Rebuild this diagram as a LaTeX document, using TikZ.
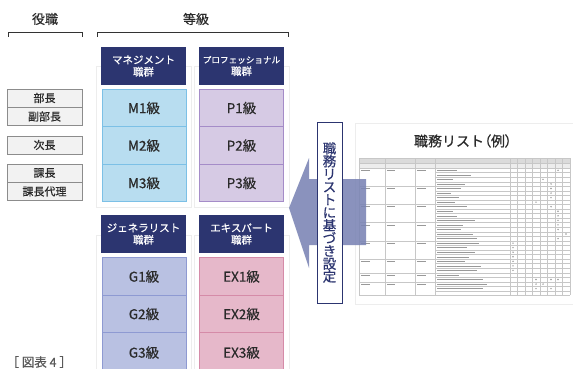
\documentclass[tikz,border=0pt]{standalone}
\usepackage{fontspec}
\setmainfont{Noto Sans CJK JP}[FakeBold=0.6]
\usetikzlibrary{shadows}
\definecolor{navy}{HTML}{2C3570}
\definecolor{mfill}{HTML}{B8DDF0}
\definecolor{mdraw}{HTML}{7CC0E6}
\definecolor{pfill}{HTML}{D6CAE4}
\definecolor{pdraw}{HTML}{A58CC8}
\definecolor{gfill}{HTML}{B9C1E2}
\definecolor{gdraw}{HTML}{8E9AD2}
\definecolor{efill}{HTML}{E6B8CA}
\definecolor{edraw}{HTML}{D58BA8}
\definecolor{arrowc}{HTML}{7A84B4}
\definecolor{txt}{HTML}{2A2A2A}
\tikzset{
  hdr/.style={fill=navy, text=white, minimum width=85pt, minimum height=38pt, inner sep=0pt, align=center, font=\fontsize{10.5}{12}\selectfont},
  cell/.style={minimum width=84pt, minimum height=37.5pt, inner sep=0pt, line width=0.8pt, text=txt, font=\fontsize{13.5}{15}\selectfont},
  mcell/.style={cell, fill=mfill, draw=mdraw},
  pcell/.style={cell, fill=pfill, draw=pdraw},
  gcell/.style={cell, fill=gfill, draw=gdraw},
  ecell/.style={cell, fill=efill, draw=edraw},
  card/.style={fill=white, draw=black!7, line width=0.5pt, drop shadow={opacity=0.18, shadow xshift=1pt, shadow yshift=-1pt}},
  rolebox/.style={fill=black!5, draw=black!45, line width=0.6pt, minimum width=75pt, minimum height=18pt, inner sep=0pt, text=txt, font=\fontsize{11}{12}\selectfont},
  bracket/.style={draw=black!80, line width=0.8pt},
  headtext/.style={text=txt, font=\fontsize{13}{14}\selectfont},
  tline/.style={draw=black!22, line width=0.3pt},
  tbar/.style={draw=black!40, line width=0.9pt},
}
\begin{document}
\begin{tikzpicture}[x=1pt,y=-1pt]
\useasboundingbox (0,0) rectangle (573,369);
\fill[white] (0,0) rectangle (573,369);

% headings and brackets
\node[headtext] (yaku) at (45,19) {役職};
\node[headtext] (tokyu) at (196,19) {等級};
\draw[bracket] (8,37) -- (8,32) -- (82,32) -- (82,37);
\draw[bracket] (97,37) -- (97,32) -- (288,32) -- (288,37);

% role boxes
\node[rolebox] (bucho) at (44.5,98) {部長};
\node[rolebox] (fukubucho) at (44.5,116.5) {副部長};
\node[rolebox] (jicho) at (44.5,145) {次長};
\node[rolebox] (kacho) at (44.5,173) {課長};
\node[rolebox] (kachodairi) at (44.5,191.5) {課長代理};

% cards
\path[card] (96,66) rectangle (191,207);
\path[card] (194,66) rectangle (289,207);
\path[card] (96,235) rectangle (191,380);
\path[card] (194,235) rectangle (289,380);

% upper groups
\node[hdr] (mh) at (143.5,66) {マネジメント\\職群};
\node[hdr, font=\fontsize{8.6}{12}\selectfont] (ph) at (241.5,66) {プロフェッショナル\\{\fontsize{10.5}{12}\selectfont 職群}};
\node[mcell] (m1) at (144,108) {M1級};
\node[mcell] (m2) at (144,145.5) {M2級};
\node[mcell] (m3) at (144,183) {M3級};
\node[pcell] (p1) at (241.5,108) {P1級};
\node[pcell] (p2) at (241.5,145.5) {P2級};
\node[pcell] (p3) at (241.5,183) {P3級};

% lower groups
\node[hdr] (gh) at (143.5,234) {ジェネラリスト\\職群};
\node[hdr] (eh) at (241.5,234) {エキスパート\\職群};
\node[gcell] (g1) at (144,276.5) {G1級};
\node[gcell] (g2) at (144,314) {G2級};
\node[gcell, minimum height=40pt] (g3) at (144,352.5) {G3級};
\node[ecell] (e1) at (241.5,276.5) {EX1級};
\node[ecell] (e2) at (241.5,314) {EX2級};
\node[ecell, minimum height=40pt] (e3) at (241.5,352.5) {EX3級};

% list card
\path[card] (355,123) rectangle (580,304);
\node[text=txt, font=\fontsize{14}{16}\selectfont] (title) at (463,141) {職務リスト{\addfontfeatures{RawFeature=+palt}（例）}};
% table
\fill[black!14] (359,158) rectangle (570,163);
\fill[black!7] (359,163) rectangle (570,168);
\foreach \i in {0,...,27} {
  \draw[tline] (435,{168+4.55*\i}) -- (570,{168+4.55*\i});
}
\foreach \i in {0,4,8,12,16,20,23,25} {
  \draw[tline] (359,{168+4.55*\i}) -- (435,{168+4.55*\i});
}
\foreach \x in {359,385,415,435,510,517,525,532,540,547,555,562,570} {
  \draw[tline] (\x,158) -- (\x,295);
}
\draw[tline] (359,158) -- (570,158) (359,163) -- (570,163) (359,295) -- (570,295);
\foreach \i/\l in {0/20,1/34,2/16,3/28,4/24,5/14,6/22,7/18,8/30,9/16,10/20,11/38,12/26,13/24,14/36,15/40,16/42,17/30,18/38,19/32,20/28,21/44,22/40,23/22,24/46,25/50,26/46} {
  \draw[tbar, line width=0.5pt] (437,{170.3+4.55*\i}) -- ++(\l,0);
}
\foreach \i in {0,4,8,12,16,20,23,25} {
  \draw[tbar, line width=0.5pt] (361,{170.3+4.55*\i}) -- ++(9,0);
  \draw[tbar, line width=0.5pt] (387,{170.3+4.55*\i}) -- ++(8,0);
  \draw[tbar, line width=0.5pt] (417,{170.3+4.55*\i}) -- ++(9,0);
}
\foreach \c/\i in {558/0,543/2,551/3,551/4,551/5,551/6,536/7,551/8,558/9,558/10,558/11,558/12,558/13,566/14,558/15,513/16,513/17,513/18,513/19,513/20,513/21,513/22,536/24,551/24,558/24,536/25,543/25,536/26,551/26} {
  \fill[black!40] (\c,{170.3+4.55*\i}) circle (0.8pt);
}

% arrow
\fill[arrowc, opacity=0.88] (289,208) -- (309,158) -- (309,179) -- (366,179) -- (366,245) -- (309,245) -- (309,268) -- cycle;

% vertical label
\node[draw=navy, line width=0.9pt, fill=white, minimum width=25pt, minimum height=181pt, inner sep=0pt, align=center, text=navy, font=\fontsize{13.5}{12.8}\selectfont] (vt) at (329.5,212.5) {職\\務\\リ\\ス\\ト\\に\\基\\づ\\き\\設\\定};

% caption
\node[text=black!65, font=\fontsize{12.5}{14}\selectfont, anchor=west] (cap) at (3,362) {［ 図表 4 ］};
\end{tikzpicture}
\end{document}
